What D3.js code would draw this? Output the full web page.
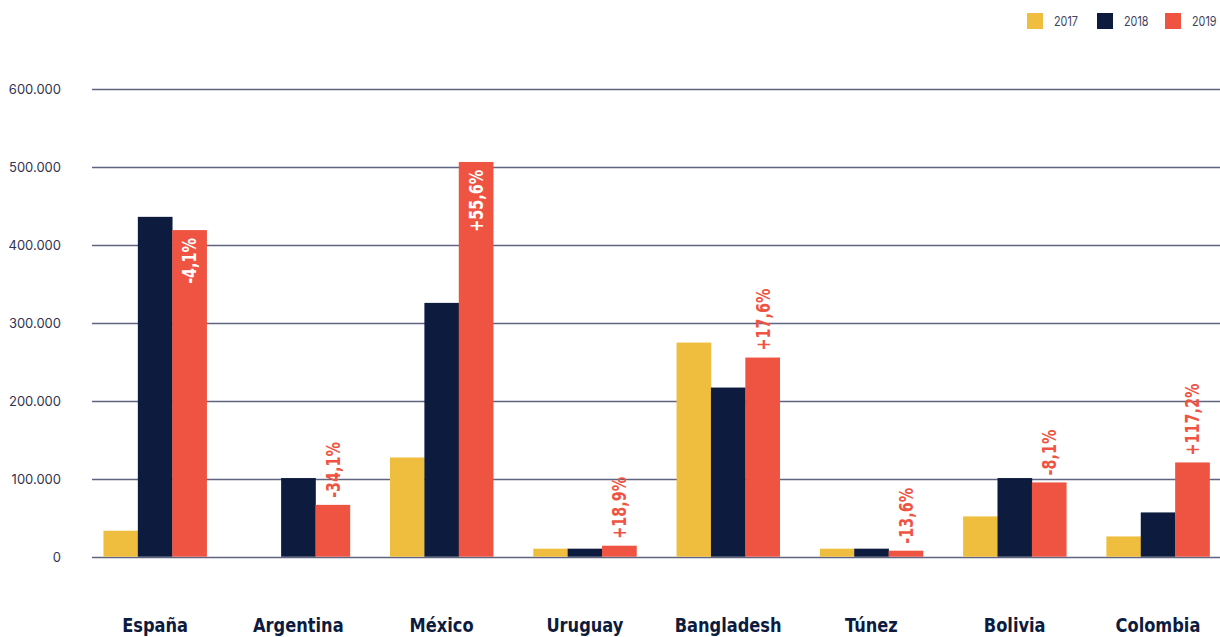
<!DOCTYPE html>
<html>
<head>
<meta charset="utf-8">
<script src="https://cdn.jsdelivr.net/npm/d3@7"></script>
<style>
  html, body { margin: 0; padding: 0; background: #ffffff; }
  svg { display: block; }
</style>
</head>
<body>
<svg id="chart" width="1220" height="637"></svg>
<script>
const categories = ["España", "Argentina", "México", "Uruguay", "Bangladesh", "Túnez", "Bolivia", "Colombia"];
const seriesNames = ["2017", "2018", "2019"];
const values2017 = [33300, 0, 127300, 10300, 274700, 10300, 51700, 26000];
const values2018 = [436000, 100900, 325600, 10300, 217000, 10300, 100900, 56800];
const values2019 = [419000, 66500, 506400, 14100, 255500, 7700, 95300, 120900];
const changeLabels = ["-4,1%", "-34,1%", "+55,6%", "+18,9%", "+17,6%", "-13,6%", "-8,1%", "+117,2%"];
const labelInside = [true, false, true, false, false, false, false, false];
const yTicks = [0, 100000, 200000, 300000, 400000, 500000, 600000];
const colors = ["#EFBE3F", "#0D1B3E", "#EF5442"];

const series = [values2017, values2018, values2019];
const svg = d3.select("#chart");

const y = d3.scaleLinear().domain([0, 600000]).range([556.7, 89]);
const x0 = d3.scaleBand().domain(categories).range([83.4, 1229.6]).paddingInner(0.28).paddingOuter(0.14);
const x1 = d3.scaleBand().domain(seriesNames).range([0, x0.bandwidth()]);

const fmt = v => v === 0 ? "0" : d3.format(",")(v).replace(/,/g, ".");

// gridlines
svg.append("g").selectAll("line").data(yTicks).join("line")
  .attr("x1", 92).attr("x2", 1220)
  .attr("y1", d => Math.round(y(d)) + 0.5).attr("y2", d => Math.round(y(d)) + 0.5)
  .attr("stroke", "#5f6580").attr("stroke-width", 1.3);

// y tick labels
svg.append("g").selectAll("text").data(yTicks).join("text")
  .attr("x", 61).attr("y", d => y(d) + 5)
  .attr("text-anchor", "end")
  .attr("font-family", "Inter, 'Open Sans', sans-serif")
  .attr("font-size", 13)
  .attr("fill", "#2f3553")
  .text(fmt);

// bars
const groups = svg.append("g").selectAll("g").data(categories).join("g")
  .attr("transform", d => `translate(${x0(d)},0)`);

groups.selectAll("rect").data((d, i) => series.map((s, k) => ({ k, v: s[i] }))).join("rect")
  .attr("x", d => x1(seriesNames[d.k]))
  .attr("width", x1.bandwidth() + 0.3)
  .attr("y", d => y(d.v))
  .attr("height", d => y(0) - y(d.v))
  .attr("fill", d => colors[d.k]);

// change labels
categories.forEach((c, i) => {
  const cx = x0(c) + x1("2019") + x1.bandwidth() / 2;
  const top = y(values2019[i]);
  const inside = labelInside[i];
  const ty = inside ? top + 8 : top - 7;
  svg.append("text")
    .attr("transform", `translate(${cx + 7},${ty}) rotate(-90) scale(0.84,1)`)
    .attr("text-anchor", inside ? "end" : "start")
    .attr("font-family", "'DejaVu Sans Condensed', 'Liberation Sans Narrow', sans-serif")
    .attr("font-weight", "bold")
    .attr("font-stretch", "condensed")
    .attr("font-size", 19)
    .attr("fill", inside ? "#ffffff" : "#EF5442")
    .text(changeLabels[i]);
});

// x labels
svg.append("g").selectAll("text").data(categories).join("text")
  .attr("transform", d => `translate(${x0(d) + x0.bandwidth() / 2},632) scale(0.95,1)`)
  .attr("text-anchor", "middle")
  .attr("font-family", "'DejaVu Sans Condensed', 'Liberation Sans Narrow', sans-serif")
  .attr("font-weight", "bold")
  .attr("font-stretch", "condensed")
  .attr("font-size", 19)
  .attr("fill", "#0D1B3E")
  .text(d => d);

// legend
const legendX = [1027, 1097, 1165];
seriesNames.forEach((s, k) => {
  svg.append("rect").attr("x", legendX[k]).attr("y", 13).attr("width", 16).attr("height", 16).attr("fill", colors[k]);
  svg.append("text")
    .attr("transform", `translate(${legendX[k] + 27},26) scale(0.8,1)`)
    .attr("font-family", "Inter, 'Open Sans', sans-serif")
    .attr("font-size", 13.5)
    .attr("fill", "#3c4363")
    .text(s);
});
</script>
</body>
</html>
